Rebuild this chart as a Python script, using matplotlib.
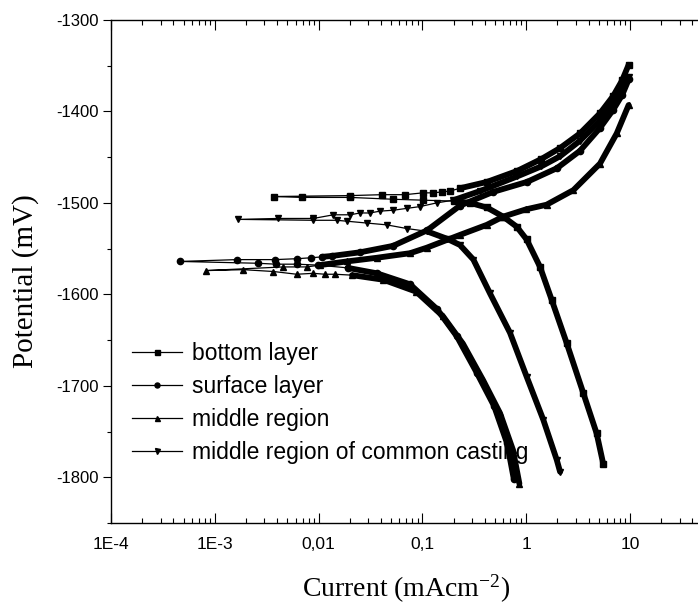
import matplotlib
matplotlib.use("Agg")
import matplotlib.pyplot as plt
from matplotlib.ticker import FixedLocator, FuncFormatter, LogLocator, MultipleLocator
import numpy as np

# Bottom layer (squares): cathodic branch, points near Ecorr, anodic branch
bottom_cath_i = [5.54, 4.77, 3.55, 2.45, 1.76, 1.36, 1.01, 0.81, 0.60, 0.417, 0.288, 0.2]
bottom_cath_E = [-1786, -1752, -1708, -1653, -1606, -1570, -1540, -1526, -1515, -1505, -1500, -1498]
bottom_near_i = [0.101, 0.052, 0.0201, 0.0069, 0.00374, 0.0201, 0.0408, 0.068, 0.101, 0.126, 0.155, 0.185]
bottom_near_E = [-1497, -1496, -1494, -1494, -1493, -1492, -1491, -1491, -1489, -1489, -1488, -1487]
bottom_anod_i = [0.23, 0.42, 0.82, 1.4, 2.12, 3.3, 5.14, 6.9, 8.4, 9.7]
bottom_anod_E = [-1484, -1477, -1465, -1452, -1440, -1424, -1402, -1383, -1366, -1349]

# Surface layer (circles)
surface_cath_i = [0.76, 0.655, 0.49, 0.335, 0.215, 0.138, 0.076, 0.0365, 0.019]
surface_cath_E = [-1802, -1763, -1722, -1686, -1646, -1616, -1589, -1577, -1571]
surface_near_i = [0.0098, 0.0062, 0.0039, 0.0026, 0.00046, 0.00165, 0.0038, 0.0062, 0.0084]
surface_near_E = [-1568, -1567, -1567, -1566, -1564, -1562, -1562, -1561, -1560]
surface_anod_i = [0.0108, 0.0134, 0.0251, 0.0521, 0.111, 0.23, 0.479, 1.02, 1.98, 3.3, 5.14, 6.9, 8.4, 9.8]
surface_anod_E = [-1559, -1558, -1554, -1547, -1530, -1503, -1488, -1477, -1462, -1443, -1418, -1398, -1382, -1364]

# Middle region (up triangles)
middle_cath_i = [0.86, 0.745, 0.56, 0.385, 0.246, 0.158, 0.087, 0.042, 0.021]
middle_cath_E = [-1807, -1770, -1730, -1694, -1654, -1624, -1597, -1584, -1579]
middle_near_i = [0.0144, 0.0115, 0.0089, 0.00615, 0.00367, 0.00188, 0.00082, 0.00457, 0.00766]
middle_near_E = [-1578, -1578, -1577, -1578, -1575, -1573, -1574, -1570, -1570]
middle_anod_i = [0.0103, 0.0187, 0.0363, 0.076, 0.11, 0.23, 0.417, 0.60, 1.0, 1.57, 2.85, 5.14, 7.45, 9.7]
middle_anod_E = [-1568, -1564, -1560, -1555, -1549, -1535, -1524, -1515, -1507, -1502, -1486, -1457, -1424, -1393]

# Middle region of common casting (down triangles)
casting_cath_i = [2.12, 1.97, 1.46, 1.01, 0.698, 0.448, 0.31, 0.23, 0.171, 0.110]
casting_cath_E = [-1794, -1781, -1737, -1690, -1642, -1599, -1562, -1546, -1539, -1531]
casting_near_i = [0.0706, 0.0453, 0.029, 0.0187, 0.0149, 0.0089, 0.00168, 0.00409, 0.0089, 0.0139,
                  0.0201, 0.0251, 0.0313, 0.039, 0.0525, 0.0706, 0.0949, 0.137]
casting_near_E = [-1528, -1524, -1522, -1520, -1519, -1519, -1518, -1517, -1517, -1513,
                  -1513, -1511, -1511, -1509, -1508, -1506, -1504, -1500]
casting_anod_i = [0.199, 0.36, 0.82, 1.4, 2.12, 3.3, 5.14, 6.9, 8.4, 9.8]
casting_anod_E = [-1497, -1487, -1471, -1460, -1449, -1432, -1410, -1392, -1377, -1362]

tick_labels = {1e-4: "1E-4", 1e-3: "1E-3", 1e-2: "0,01", 1e-1: "0,1", 1: "1", 10: "10", 100: "100"}

series = [
    ("bottom layer", "s", bottom_cath_i, bottom_cath_E, bottom_near_i, bottom_near_E, bottom_anod_i, bottom_anod_E),
    ("surface layer", "o", surface_cath_i, surface_cath_E, surface_near_i, surface_near_E, surface_anod_i, surface_anod_E),
    ("middle region", "^", middle_cath_i, middle_cath_E, middle_near_i, middle_near_E, middle_anod_i, middle_anod_E),
    ("middle region of common casting", "v", casting_cath_i, casting_cath_E, casting_near_i, casting_near_E,
     casting_anod_i, casting_anod_E),
]

plt.rcParams["font.family"] = ["Liberation Sans", "DejaVu Sans"]
plt.rcParams["axes.unicode_minus"] = False
plt.rcParams["mathtext.fontset"] = "custom"
plt.rcParams["mathtext.rm"] = "Liberation Serif"
plt.rcParams["mathtext.default"] = "regular"

fig = plt.figure(figsize=(6.98, 6.08), dpi=100)
# axes run past the right edge of the picture (cropped original)
ax = fig.add_axes([111 / 698, 85 / 608, 587 / 698, 503 / 608])

for label, mk, ci, cE, ni, nE, ai, aE in series:
    all_i = list(ci) + list(ni) + list(ai)
    all_E = list(cE) + list(nE) + list(aE)
    ax.plot(all_i, all_E, color="black", lw=0.9, marker=mk, ms=4.5, label=label, zorder=3)
    # dense parts of the scan look like thick bands
    ax.plot(ci, cE, color="black", lw=4.2, solid_capstyle="round", solid_joinstyle="round", zorder=3)
    ax.plot(ai, aE, color="black", lw=4.2, solid_capstyle="round", solid_joinstyle="round", zorder=3)

ax.set_xscale("log")
ax.set_xlim(1e-4, 10 ** (587 / 103.8 - 4))
ax.set_ylim(-1850, -1300)

# Axes, ticks
ax.xaxis.set_major_locator(FixedLocator(list(tick_labels.keys())))
ax.xaxis.set_major_formatter(FuncFormatter(lambda v, p: tick_labels.get(round(v, 6) if v < 1 else v, "")))
ax.xaxis.set_minor_locator(LogLocator(base=10, subs=np.arange(2, 10)))
ax.xaxis.set_minor_formatter(FuncFormatter(lambda v, p: ""))
ax.yaxis.set_major_locator(MultipleLocator(100))
ax.yaxis.set_minor_locator(MultipleLocator(50))

ax.spines["right"].set_visible(False)
for s in ["left", "bottom", "top"]:
    ax.spines[s].set_linewidth(1.0)
ax.tick_params(axis="x", which="both", direction="in", top=True, labelsize=12.5, pad=10, width=0.8)
ax.tick_params(axis="x", which="major", length=7)
ax.tick_params(axis="x", which="minor", length=3.6)
ax.tick_params(axis="y", which="both", direction="out", labelsize=12, pad=3, width=0.8)
ax.tick_params(axis="y", which="major", length=5.5)
ax.tick_params(axis="y", which="minor", length=2.7)

# Axis titles
fig.text(302 / 698, 11 / 608, "Current (mAcm$^{-2}$)", fontsize=20, family="Liberation Serif",
         ha="left", va="baseline")
fig.text(26 / 698, 1 - 281.5 / 608, "Potential (mV)", fontsize=21, family="Liberation Serif",
         rotation=90, ha="center", va="center")

# Legend (under the curves, no frame)
leg = ax.legend(loc="upper left", bbox_to_anchor=(132 / 698, 1 - 342 / 608), bbox_transform=fig.transFigure,
                frameon=False, fontsize=16.5, numpoints=1, markerscale=0.8, handlelength=2.2,
                handletextpad=0.4, labelspacing=0.43, borderpad=0, borderaxespad=0)
leg.set_zorder(2)

fig.savefig("out.png", dpi=100)
